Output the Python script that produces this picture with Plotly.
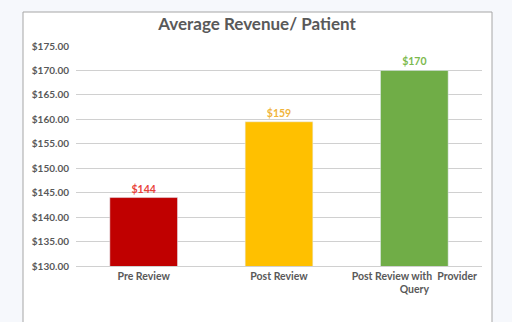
import plotly.graph_objects as go

categories = ["Pre Review", "Post Review", "Post Review with  Provider<br>Query"]
values = [144, 159.5, 170]
labels = ["$144", "$159", "$170"]
bar_colors = ["#c00000", "#ffc000", "#70ad47"]
label_colors = ["#e8423a", "#f0b43c", "#7cb94e"]

L, R, T, B = 76, 30, 46, 56
W, H = 512, 322
pw, ph = W - L - R, H - T - B

def px2x(px):
    return (px - L) / pw

def py2y(py):
    return (H - B - py) / ph

fig = go.Figure(go.Bar(
    x=categories, y=values, marker_color=bar_colors, width=0.5,
    text=["<b>" + t + "</b>" for t in labels], textposition="outside", cliponaxis=False,
    textfont=dict(color=label_colors, size=10.5, family="Lato"),
))

fig.add_shape(type="rect", xref="paper", yref="paper",
              x0=px2x(23), x1=px2x(492), y0=py2y(340), y1=py2y(12),
              line=dict(color="#a6a6a6", width=1), fillcolor="white", layer="below")

fig.update_layout(
    width=W, height=H, margin=dict(l=L, r=R, t=T, b=B),
    paper_bgcolor="#f6f8fc", plot_bgcolor="rgba(0,0,0,0)",
    showlegend=False, bargap=0.5,
    title=dict(text="<b>Average Revenue/ Patient</b>", x=257 / W,
               xanchor="center", y=1 - 24 / H, yanchor="middle",
               font=dict(size=17, color="#595959", family="Lato")),
    font=dict(family="Lato", color="#595959", size=10),
    yaxis=dict(range=[130, 175], dtick=5, tickformat="$.2f", showgrid=True,
               gridcolor="#d0d0d0", gridwidth=1, zeroline=False, showline=False,
               ticks="", ticklabelstandoff=6,
               tickfont=dict(size=10, color="#595959", family="Lato", weight="bold")),
    xaxis=dict(showline=True, linecolor="#d0d0d0", ticks="",
               tickfont=dict(size=10.5, color="#595959", family="Lato", weight="bold")),
)

fig.write_html("out.html")
